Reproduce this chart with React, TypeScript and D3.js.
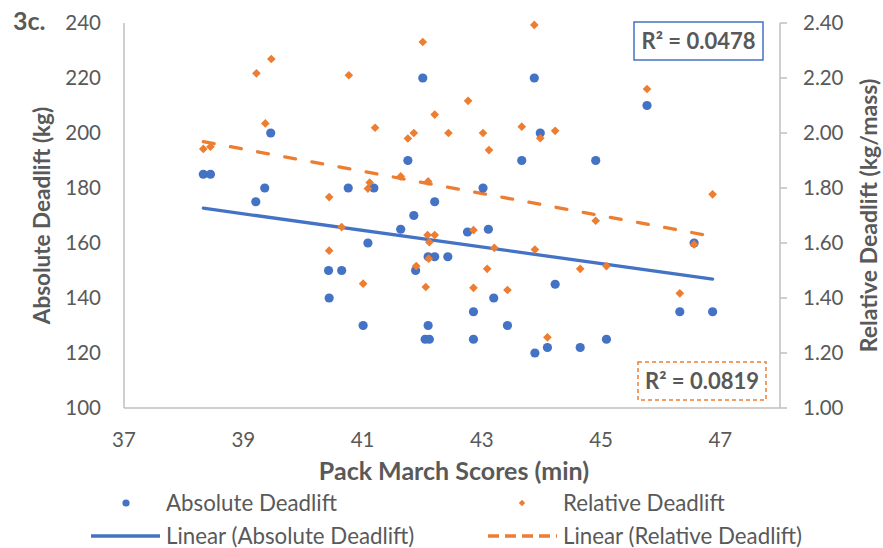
import React from 'react';
import * as d3 from 'd3';

// Pack march time (min) vs absolute deadlift (kg)
const absMarch = [38.33, 38.45, 39.21, 39.36, 39.46, 40.43, 40.44, 40.65, 40.76, 41.01, 41.09, 41.19, 41.64, 41.76, 41.86, 41.89, 42.01, 42.05, 42.1, 42.1, 42.12, 42.21, 42.21, 42.43, 42.76, 42.86, 42.86, 43.02, 43.11, 43.2, 43.43, 43.67, 43.88, 43.89, 43.98, 44.1, 44.23, 44.65, 44.91, 45.09, 45.77, 46.32, 46.56, 46.87];
const absDeadlift = [185, 185, 175, 180, 200, 150, 140, 150, 180, 130, 160, 180, 165, 190, 170, 150, 220, 125, 130, 155, 125, 175, 155, 155, 164, 135, 125, 180, 165, 140, 130, 190, 220, 120, 200, 122, 145, 122, 190, 125, 210, 135, 160, 135];

// Pack march time (min) vs relative deadlift (kg/mass)
const relMarch = [38.33, 38.45, 39.22, 39.37, 39.47, 40.44, 40.44, 40.65, 40.77, 41.01, 41.09, 41.12, 41.21, 41.64, 41.76, 41.86, 41.9, 42.01, 42.06, 42.09, 42.1, 42.12, 42.11, 42.21, 42.21, 42.44, 42.77, 42.86, 42.86, 43.02, 43.09, 43.12, 43.21, 43.43, 43.67, 43.88, 43.89, 43.98, 44.1, 44.23, 44.65, 44.91, 45.09, 45.77, 46.32, 46.56, 46.87];
const relDeadlift = [1.942, 1.95, 2.217, 2.035, 2.269, 1.767, 1.572, 1.658, 2.21, 1.452, 1.798, 1.82, 2.019, 1.842, 1.98, 2.0, 1.516, 2.331, 1.44, 1.629, 1.824, 1.603, 1.543, 2.067, 1.629, 2.0, 2.117, 1.647, 1.437, 2.0, 1.506, 1.938, 1.582, 1.429, 2.023, 2.393, 1.576, 1.981, 1.257, 2.008, 1.506, 1.681, 1.516, 2.16, 1.417, 1.595, 1.777];

const xTicks = [37, 39, 41, 43, 45, 47];
const leftTicks = [100, 120, 140, 160, 180, 200, 220, 240];
const rightTicks = [1.0, 1.2, 1.4, 1.6, 1.8, 2.0, 2.2, 2.4];

const r2Abs = '0.0478';
const r2Rel = '0.0819';

const BLUE = '#4472C4';
const ORANGE = '#ED7D31';
const TEXT = '#595959';
const AXIS = '#BFBFBF';
const FONT = 'Lato, "Open Sans", sans-serif';

function linearFit(xs: number[], ys: number[]) {
  const mx = d3.mean(xs)!;
  const my = d3.mean(ys)!;
  let num = 0, den = 0;
  xs.forEach((x, i) => { num += (x - mx) * (ys[i] - my); den += (x - mx) ** 2; });
  const slope = num / den;
  return (x: number) => my + slope * (x - mx);
}

export default function App() {
  const W = 883, H = 548;
  const x = d3.scaleLinear().domain([37, 48]).range([124, 780]);
  const yL = d3.scaleLinear().domain([100, 240]).range([408, 23]);
  const yR = d3.scaleLinear().domain([1, 2.4]).range([408, 23]);

  const fitAbs = linearFit(absMarch, absDeadlift);
  const fitRel = linearFit(relMarch, relDeadlift);
  const [ax0, ax1] = d3.extent(absMarch) as [number, number];
  const [rx0, rx1] = d3.extent(relMarch) as [number, number];

  const diamond = d3.symbol().type(d3.symbolDiamond2).size(48)()!;
  const diamondSmall = d3.symbol().type(d3.symbolDiamond2).size(26)()!;

  return (
    <svg width={W} height={H} style={{ position: 'absolute', left: 0, top: 0, background: '#fff' }} fontFamily={FONT}>
      {/* axes */}
      <line x1={x(37)} x2={x(37)} y1={yL(240)} y2={yL(100)} stroke={AXIS} strokeWidth={1.5} />
      <line x1={x(37)} x2={x(48)} y1={yL(100)} y2={yL(100)} stroke={AXIS} strokeWidth={1.5} />
      <line x1={x(48)} x2={x(48)} y1={yR(2.4)} y2={yR(1)} stroke={AXIS} strokeWidth={1.5} />
      {rightTicks.map(t => (
        <line key={t} x1={x(48)} x2={x(48) + 7} y1={yR(t)} y2={yR(t)} stroke={AXIS} strokeWidth={1.5} />
      ))}

      {leftTicks.map(t => (
        <text key={t} x={101} y={yL(t)} dy="0.36em" textAnchor="end" fontSize={20.5} fill={TEXT}>{t}</text>
      ))}
      {rightTicks.map(t => (
        <text key={t} x={803} y={yR(t)} dy="0.36em" textAnchor="start" fontSize={20.5} fill={TEXT}>{t.toFixed(2)}</text>
      ))}
      {xTicks.map(t => (
        <text key={t} x={x(t)} y={440} dy="0.36em" textAnchor="middle" fontSize={20.5} fill={TEXT}>{t}</text>
      ))}

      {/* axis titles */}
      <text x={454} y={471} dy="0.36em" textAnchor="middle" fontSize={25} fontWeight="bold" fill={TEXT}>Pack March Scores (min)</text>
      <text transform={`translate(42,${(23 + 408) / 2}) rotate(-90)`} dy="0.36em" textAnchor="middle" fontSize={22.5} fontWeight="bold" fill={TEXT}>Absolute Deadlift (kg)</text>
      <text transform={`translate(869,${(23 + 408) / 2}) rotate(-90)`} dy="0.36em" textAnchor="middle" fontSize={23} fontWeight="bold" fill={TEXT}>Relative Deadlift (kg/mass)</text>
      <text x={13} y={30} fontSize={25} fontWeight="bold" fill={TEXT}>3c.</text>

      {/* trend lines */}
      <line x1={x(ax0)} y1={yL(fitAbs(ax0))} x2={x(ax1)} y2={yL(fitAbs(ax1))} stroke={BLUE} strokeWidth={3.3} strokeLinecap="round" />
      <line x1={x(rx0)} y1={yR(fitRel(rx0))} x2={x(rx1)} y2={yR(fitRel(rx1))} stroke={ORANGE} strokeWidth={3.3} strokeLinecap="round" strokeDasharray="11 16.6" />

      {/* points */}
      {absMarch.map((m, i) => (
        <circle key={'a' + i} cx={x(m)} cy={yL(absDeadlift[i])} r={4.6} fill={BLUE} />
      ))}
      {relMarch.map((m, i) => (
        <path key={'r' + i} d={diamond} transform={`translate(${x(m)},${yR(relDeadlift[i])})`} fill={ORANGE} />
      ))}

      {/* R² labels */}
      <rect x={634} y={22} width={129} height={38} fill="#fff" stroke={BLUE} strokeWidth={1.5} />
      <text x={698.5} y={41} dy="0.36em" textAnchor="middle" fontSize={22} fontWeight="bold" fill={TEXT}>R² = {r2Abs}</text>
      <rect x={638} y={362} width={128} height={38} fill="#fff" stroke={ORANGE} strokeWidth={1.5} strokeDasharray="4 3" />
      <text x={702} y={381} dy="0.36em" textAnchor="middle" fontSize={22} fontWeight="bold" fill={TEXT}>R² = {r2Rel}</text>

      {/* legend */}
      <circle cx={126} cy={503} r={3.6} fill={BLUE} />
      <text x={166} y={503} dy="0.36em" fontSize={22.3} fill={TEXT}>Absolute Deadlift</text>
      <path d={diamondSmall} transform="translate(522,503)" fill={ORANGE} />
      <text x={563} y={503} dy="0.36em" fontSize={22.3} fill={TEXT}>Relative Deadlift</text>
      <line x1={91} x2={160} y1={536} y2={536} stroke={BLUE} strokeWidth={3.3} />
      <text x={166} y={536} dy="0.36em" fontSize={22.3} fill={TEXT}>Linear (Absolute Deadlift)</text>
      <line x1={488} x2={557} y1={536} y2={536} stroke={ORANGE} strokeWidth={3.3} strokeDasharray="11 6" />
      <text x={563} y={536} dy="0.36em" fontSize={22.3} fill={TEXT}>Linear (Relative Deadlift)</text>
    </svg>
  );
}
